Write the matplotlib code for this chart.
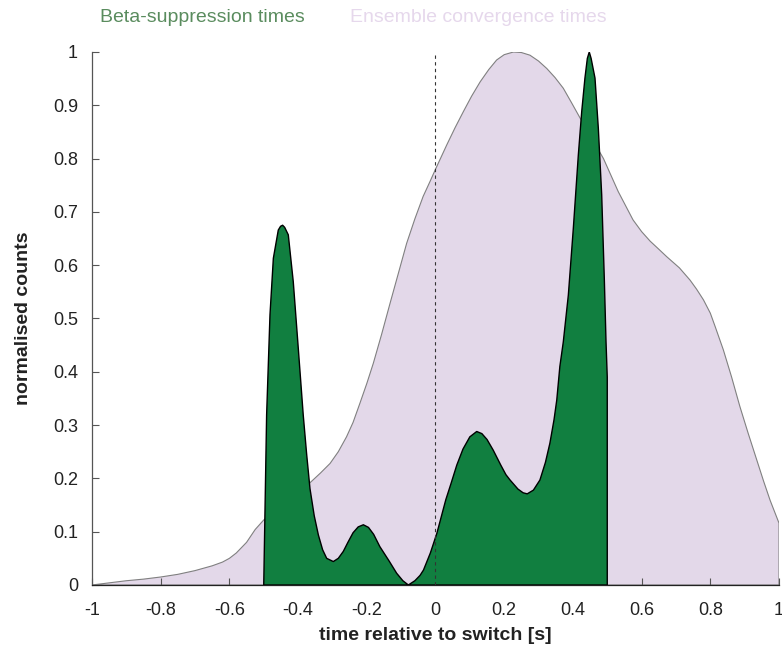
import matplotlib
matplotlib.use("Agg")
import matplotlib.pyplot as plt

plt.rcParams['font.family'] = ['Liberation Sans', 'DejaVu Sans']

# ensemble convergence times (normalised density)
ens_t = [-1.0, -0.95, -0.9, -0.85, -0.8, -0.75, -0.7, -0.65, -0.62, -0.6, -0.58,
         -0.55, -0.525, -0.5, -0.45, -0.4, -0.36, -0.335, -0.307, -0.283, -0.259,
         -0.24, -0.22, -0.2, -0.181, -0.157, -0.1325, -0.108, -0.084, -0.06,
         -0.036, -0.016, 0.0, 0.033, 0.057, 0.081, 0.105, 0.13, 0.155, 0.178,
         0.2, 0.227, 0.25, 0.275, 0.3, 0.324, 0.348, 0.372, 0.395, 0.421,
         0.455, 0.489, 0.532, 0.575, 0.6, 0.625, 0.65, 0.673, 0.71, 0.741,
         0.76, 0.78, 0.8, 0.814, 0.838, 0.862, 0.886, 0.91, 0.935, 0.955,
         0.974, 1.0]
ens_y = [0.0, 0.004, 0.008, 0.011, 0.015, 0.02, 0.027, 0.036, 0.043, 0.05, 0.06,
         0.08, 0.104, 0.122, 0.147, 0.172, 0.195, 0.21, 0.228, 0.25, 0.278,
         0.305, 0.341, 0.378, 0.416, 0.47, 0.528, 0.585, 0.641, 0.687,
         0.729, 0.757, 0.78, 0.826, 0.858, 0.888, 0.917, 0.944, 0.967, 0.985,
         0.995, 1.0, 0.999, 0.994, 0.983, 0.969, 0.952, 0.932, 0.906, 0.876,
         0.838, 0.8, 0.738, 0.685, 0.663, 0.645, 0.63, 0.616, 0.595, 0.572,
         0.555, 0.535, 0.51, 0.485, 0.441, 0.39, 0.335, 0.285, 0.235, 0.195,
         0.159, 0.116]

# beta-suppression times (normalised density)
beta_t = [-0.5, -0.4916, -0.4818, -0.472, -0.4576, -0.451, -0.445, -0.439, -0.4285,
          -0.414, -0.3994, -0.385, -0.375, -0.3654, -0.353, -0.341, -0.3285, -0.3167,
          -0.2975, -0.283, -0.2684, -0.255, -0.24, -0.225, -0.21, -0.195, -0.18,
          -0.162, -0.148, -0.135, -0.113, -0.095, -0.079, -0.06, -0.045, -0.035,
          -0.015, 0.004, 0.03, 0.045, 0.062, 0.08, 0.1, 0.12, 0.135, 0.15,
          0.168, 0.19, 0.205, 0.217, 0.24, 0.255, 0.267, 0.285, 0.304, 0.32,
          0.333, 0.345, 0.353, 0.362, 0.372, 0.3867, 0.4012, 0.4158, 0.4256,
          0.435, 0.442, 0.4476, 0.453, 0.4643, 0.474, 0.4838, 0.4914, 0.4964, 0.5]
beta_y = [0.0, 0.319, 0.507, 0.613, 0.666, 0.673, 0.675, 0.671, 0.657,
          0.569, 0.444, 0.319, 0.245, 0.181, 0.13, 0.094, 0.066, 0.05,
          0.044, 0.05, 0.063, 0.08, 0.098, 0.109, 0.113, 0.108, 0.095,
          0.072, 0.058, 0.045, 0.022, 0.008, 0.0, 0.008, 0.018, 0.028,
          0.06, 0.097, 0.16, 0.19, 0.225, 0.255, 0.278, 0.288, 0.284, 0.273,
          0.253, 0.225, 0.207, 0.197, 0.18, 0.173, 0.171, 0.178, 0.197, 0.23,
          0.266, 0.31, 0.347, 0.41, 0.456, 0.544, 0.669, 0.807, 0.888,
          0.951, 0.988, 1.0, 0.988, 0.951, 0.857, 0.732, 0.575, 0.456, 0.39]

x_ticks = [-1, -0.8, -0.6, -0.4, -0.2, 0, 0.2, 0.4, 0.6, 0.8, 1]
x_ticklabels = ['-1', '-0.8', '-0.6', '-0.4', '-0.2', '0', '0.2', '0.4', '0.6', '0.8', '1']
y_ticks = [0, 0.1, 0.2, 0.3, 0.4, 0.5, 0.6, 0.7, 0.8, 0.9, 1]
y_ticklabels = ['0', '0.1', '0.2', '0.3', '0.4', '0.5', '0.6', '0.7', '0.8', '0.9', '1']

fig = plt.figure(figsize=(7.82, 6.59), dpi=100)
ax = fig.add_axes([0.1176, 0.1123, 0.8786, 0.8088])

# filled densities, closed down to zero
ax.fill(ens_t + [1.0, -1.0], ens_y + [0.0, 0.0], facecolor='#e3d8e9',
        edgecolor='#808080', linewidth=0.8, zorder=1)
ax.fill(beta_t + [0.5], beta_y + [0.0], facecolor='#117f40',
        edgecolor='black', linewidth=1.0, joinstyle='round', zorder=2)

# switch time
ax.plot([0, 0], [0, 1], color='#333333', linestyle=(0, (3, 3)), linewidth=0.8, zorder=3)

ax.set_xlim(-1, 1)
ax.set_ylim(0, 1)
ax.set_xticks(x_ticks)
ax.set_xticklabels(x_ticklabels)
ax.set_yticks(y_ticks)
ax.set_yticklabels(y_ticklabels)
ax.tick_params(direction='in', length=5, width=0.8, color='#555555',
               labelsize=13, labelcolor='#222222')
ax.tick_params(axis='x', pad=12)
ax.tick_params(axis='y', pad=10)
ax.spines['top'].set_visible(False)
ax.spines['right'].set_visible(False)
ax.spines['left'].set_color('#555555')
ax.spines['bottom'].set_color('#222222')
ax.spines['left'].set_linewidth(0.9)
ax.spines['bottom'].set_linewidth(0.9)

ax.set_xlabel('time relative to switch [s]', fontsize=14, fontweight='bold',
              color='#222222', labelpad=6)
ax.set_ylabel('normalised counts', fontsize=14, fontweight='bold',
              color='#222222', labelpad=15)

# legend as coloured text
fig.text(0.128, 0.973, 'Beta-suppression times', fontsize=14,
         color='#5a8c5e', va='center')
fig.text(0.4476, 0.973, 'Ensemble convergence times', fontsize=14,
         color='#e6d8ec', va='center')

fig.savefig('out.png', dpi=100)
